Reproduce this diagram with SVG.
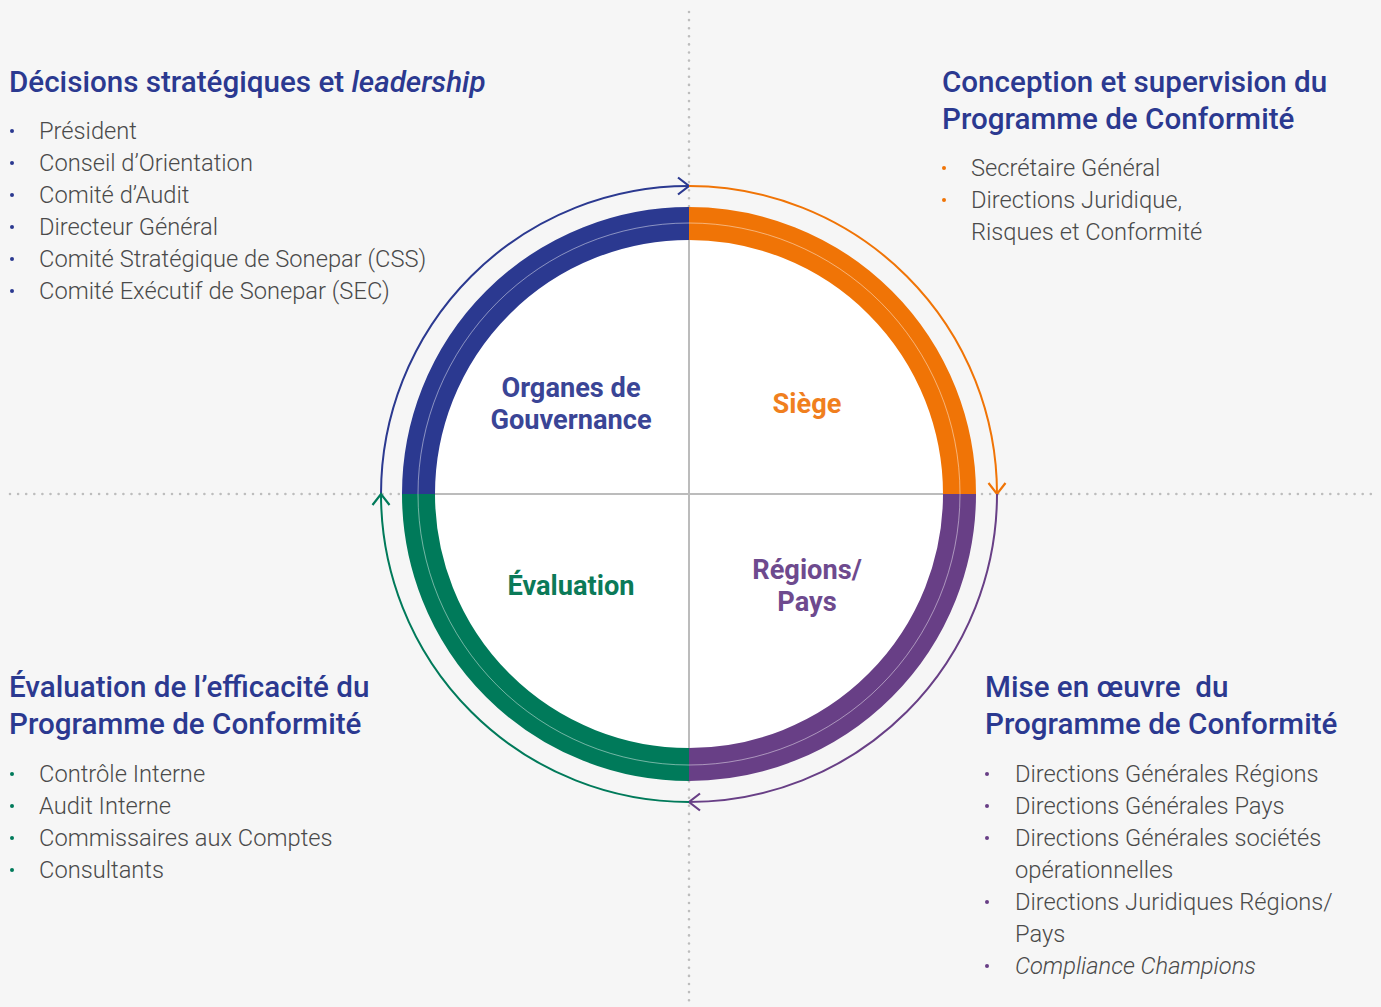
<svg xmlns="http://www.w3.org/2000/svg" width="1381" height="1007" viewBox="0 0 1381 1007">
<style>
.h{font-family:Roboto,"Liberation Sans",sans-serif;font-weight:500;font-size:29.6px;fill:#2b3990}
.li{font-family:Roboto,"Liberation Sans",sans-serif;font-weight:300;font-size:23.7px;fill:#4a4a4a}
.lab{font-family:Roboto,"Liberation Sans",sans-serif;font-weight:700;font-size:27.2px;text-anchor:middle}
.dot{fill:none;stroke:#bdbdbd;stroke-width:2.6;stroke-linecap:round;stroke-dasharray:0 8.1}
.ring{fill:none;stroke-width:33}
.arc{fill:none;stroke-width:2}
</style>
<defs>
<marker id="mb" markerUnits="userSpaceOnUse" markerWidth="30" markerHeight="30" refX="0" refY="0" viewBox="-15 -15 30 30" orient="auto" overflow="visible"><path d="M-11 -8.5 L0 0 L-11 8.5" fill="none" stroke="#2b3990" stroke-width="2.2"/></marker>
<marker id="mo" markerUnits="userSpaceOnUse" markerWidth="30" markerHeight="30" refX="0" refY="0" viewBox="-15 -15 30 30" orient="auto" overflow="visible"><path d="M-11 -8.5 L0 0 L-11 8.5" fill="none" stroke="#f07406" stroke-width="2.2"/></marker>
<marker id="mp" markerUnits="userSpaceOnUse" markerWidth="30" markerHeight="30" refX="0" refY="0" viewBox="-15 -15 30 30" orient="auto" overflow="visible"><path d="M-11 -8.5 L0 0 L-11 8.5" fill="none" stroke="#683f86" stroke-width="2.2"/></marker>
<marker id="mg" markerUnits="userSpaceOnUse" markerWidth="30" markerHeight="30" refX="0" refY="0" viewBox="-15 -15 30 30" orient="auto" overflow="visible"><path d="M-11 -8.5 L0 0 L-11 8.5" fill="none" stroke="#007a5a" stroke-width="2.2"/></marker>
</defs>
<rect width="1381" height="1007" fill="#f6f6f6"/>
<g id="guides">
<line class="dot" x1="689" y1="12" x2="689" y2="1007"/>
<line class="dot" x1="10" y1="494" x2="1372" y2="494"/>
</g>
<g id="wheel">
<circle cx="689" cy="494" r="255" fill="#ffffff"/>
<line x1="435" y1="494" x2="943" y2="494" stroke="#bcbcbc" stroke-width="2"/>
<line x1="689" y1="240" x2="689" y2="748" stroke="#bcbcbc" stroke-width="2"/>
<path class="ring" stroke="#2b3990" d="M418.5 494 A270.5 270.5 0 0 1 689 223.5"/>
<path class="ring" stroke="#f07406" d="M689 223.5 A270.5 270.5 0 0 1 959.5 494"/>
<path class="ring" stroke="#683f86" d="M959.5 494 A270.5 270.5 0 0 1 689 764.5"/>
<path class="ring" stroke="#007a5a" d="M689 764.5 A270.5 270.5 0 0 1 418.5 494"/>
<circle cx="689" cy="494" r="271" fill="none" stroke="#ffffff" stroke-opacity="0.45" stroke-width="1"/>
</g>
<g id="connectors">
<path class="arc" stroke="#2b3990" d="M381 494 A308 308 0 0 1 689 186" marker-end="url(#mb)"/>
<path class="arc" stroke="#f07406" d="M689 186 A308 308 0 0 1 997 494" marker-end="url(#mo)"/>
<path class="arc" stroke="#683f86" d="M997 494 A308 308 0 0 1 689 802" marker-end="url(#mp)"/>
<path class="arc" stroke="#007a5a" d="M689 802 A308 308 0 0 1 381 494" marker-end="url(#mg)"/>
</g>
<g id="node-gouvernance">
<text class="lab" fill="#3a4596" x="571" y="397">Organes de</text>
<text class="lab" fill="#3a4596" x="571" y="429">Gouvernance</text>
</g>
<g id="node-siege">
<text class="lab" fill="#f07f1e" x="807" y="413">Siège</text>
</g>
<g id="node-evaluation">
<text class="lab" fill="#0b7a58" x="571" y="595">Évaluation</text>
</g>
<g id="node-regions">
<text class="lab" fill="#6e4a8e" x="807" y="579">Régions/</text>
<text class="lab" fill="#6e4a8e" x="807" y="611">Pays</text>
</g>
<g id="block-tl">
<text class="h" x="9" y="92">Décisions stratégiques et <tspan font-style="italic">leadership</tspan></text>
<g fill="#2b3990"><circle cx="12" cy="131" r="2"/><circle cx="12" cy="163" r="2"/><circle cx="12" cy="195" r="2"/><circle cx="12" cy="227" r="2"/><circle cx="12" cy="259" r="2"/><circle cx="12" cy="291" r="2"/></g>
<text class="li" x="39" y="139">Président</text>
<text class="li" x="39" y="171">Conseil d’Orientation</text>
<text class="li" x="39" y="203">Comité d’Audit</text>
<text class="li" x="39" y="235">Directeur Général</text>
<text class="li" x="39" y="267">Comité Stratégique de Sonepar (CSS)</text>
<text class="li" x="39" y="299">Comité Exécutif de Sonepar (SEC)</text>
</g>
<g id="block-tr">
<text class="h" x="942" y="92">Conception et supervision du</text>
<text class="h" x="942" y="129">Programme de Conformité</text>
<g fill="#f07406"><circle cx="944" cy="168" r="2"/><circle cx="944" cy="200" r="2"/></g>
<text class="li" x="971" y="176">Secrétaire Général</text>
<text class="li" x="971" y="208">Directions Juridique,</text>
<text class="li" x="971" y="240">Risques et Conformité</text>
</g>
<g id="block-bl">
<text class="h" x="9" y="697">Évaluation de l’efficacité du</text>
<text class="h" x="9" y="734">Programme de Conformité</text>
<g fill="#007a5a"><circle cx="12" cy="774" r="2"/><circle cx="12" cy="806" r="2"/><circle cx="12" cy="838" r="2"/><circle cx="12" cy="870" r="2"/></g>
<text class="li" x="39" y="782">Contrôle Interne</text>
<text class="li" x="39" y="814">Audit Interne</text>
<text class="li" x="39" y="846">Commissaires aux Comptes</text>
<text class="li" x="39" y="878">Consultants</text>
</g>
<g id="block-br">
<text class="h" x="985" y="697" xml:space="preserve">Mise en œuvre  du</text>
<text class="h" x="985" y="734">Programme de Conformité</text>
<g fill="#683f86"><circle cx="987" cy="774" r="2"/><circle cx="987" cy="806" r="2"/><circle cx="987" cy="838" r="2"/><circle cx="987" cy="902" r="2"/><circle cx="987" cy="966" r="2"/></g>
<text class="li" x="1015" y="782">Directions Générales Régions</text>
<text class="li" x="1015" y="814">Directions Générales Pays</text>
<text class="li" x="1015" y="846">Directions Générales sociétés</text>
<text class="li" x="1015" y="878">opérationnelles</text>
<text class="li" x="1015" y="910">Directions Juridiques Régions/</text>
<text class="li" x="1015" y="942">Pays</text>
<text class="li" x="1015" y="974" font-style="italic">Compliance Champions</text>
</g>
</svg>
